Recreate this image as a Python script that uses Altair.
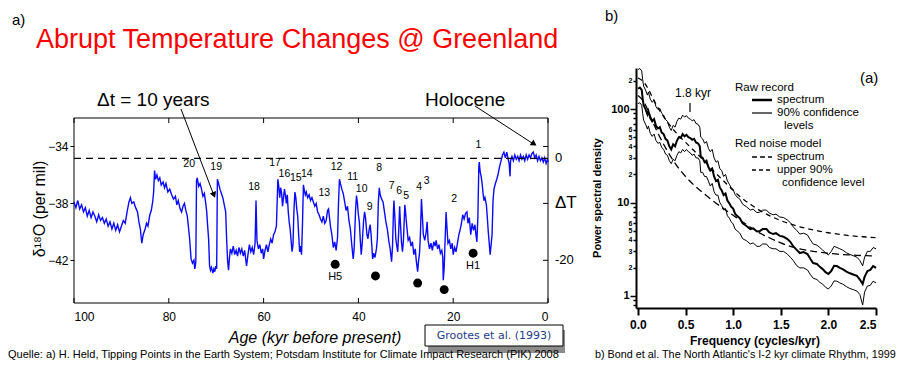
import altair as alt
import pandas as pd

FONT = "Liberation Sans"

# ---------------- Panel a: GISP2 delta-18O record ----------------
age = [100.0, 99.6, 99.2, 98.8, 98.4, 98.0, 97.6, 97.2, 96.8, 96.4, 96.0, 95.6, 95.2, 94.8, 94.4, 94.0,
       93.6, 93.2, 92.8, 92.4, 92.0, 91.6, 91.2, 90.8, 90.4, 90.0, 89.6, 89.2, 88.8, 88.4, 88.1, 87.8,
       87.4, 87.0, 86.6, 86.3, 86.0, 85.7, 85.4, 85.0, 84.7, 84.4, 84.0, 83.7, 83.4, 83.2, 83.0, 82.8,
       82.5, 82.2, 81.9, 81.6, 81.2, 80.9, 80.6, 80.2, 79.8, 79.4, 79.0, 78.6, 78.3, 78.0, 77.6, 77.3,
       77.0, 76.7, 76.4, 76.1, 75.9, 75.6, 75.3, 75.0, 74.7, 74.5, 74.3, 74.15, 74.0, 73.7, 73.4, 73.1,
       72.8, 72.5, 72.2, 72.0, 71.8, 71.6, 71.4, 71.2, 71.0, 70.7, 70.5, 70.3, 70.1, 69.9, 69.75, 69.5,
       69.2, 68.9, 68.6, 68.3, 68.0, 67.8, 67.6, 67.4, 67.2, 67.0, 66.7, 66.4, 66.1, 65.8, 65.5, 65.2,
       64.9, 64.6, 64.3, 64.0, 63.6, 63.3, 63.0, 62.7, 62.4, 62.1, 61.8, 61.6, 61.4, 61.1, 60.8, 60.5,
       60.2, 60.0, 59.7, 59.4, 59.1, 58.8, 58.5, 58.2, 57.9, 57.6, 57.3, 57.1, 57.0, 56.8, 56.6, 56.4,
       56.2, 56.0, 55.8, 55.6, 55.4, 55.2, 55.0, 54.8, 54.6, 54.4, 54.2, 54.0, 53.8, 53.6, 53.4, 53.2,
       53.0, 52.8, 52.6, 52.4, 52.2, 52.0, 51.8, 51.6, 51.4, 51.2, 51.0, 50.7, 50.4, 50.1, 49.8, 49.5,
       49.2, 48.9, 48.6, 48.3, 48.0, 47.7, 47.4, 47.1, 46.8, 46.5, 46.3, 46.1, 45.9, 45.6, 45.3, 45.0,
       44.7, 44.4, 44.2, 44.0, 43.8, 43.5, 43.2, 42.9, 42.6, 42.3, 42.0, 41.7, 41.4, 41.1, 40.9, 40.6,
       40.4, 40.2, 40.0, 39.8, 39.6, 39.4, 39.2, 38.9, 38.7, 38.5, 38.2, 38.0, 37.7, 37.5, 37.3, 37.0,
       36.8, 36.5, 36.2, 36.0, 35.8, 35.6, 35.4, 35.1, 34.8, 34.5, 34.2, 33.9, 33.6, 33.3, 33.0, 32.8,
       32.6, 32.5, 32.3, 32.1, 31.9, 31.7, 31.5, 31.3, 31.1, 30.9, 30.7, 30.5, 30.2, 30.0, 29.8, 29.5,
       29.2, 28.9, 28.6, 28.3, 28.0, 27.8, 27.5, 27.3, 27.1, 26.9, 26.7, 26.5, 26.3, 26.0, 25.7, 25.5,
       25.3, 25.0, 24.7, 24.4, 24.1, 23.8, 23.6, 23.3, 23.0, 22.7, 22.4, 22.2, 22.1, 21.9, 21.7, 21.5,
       21.3, 21.1, 20.8, 20.5, 20.2, 20.0, 19.7, 19.4, 19.1, 18.8, 18.5, 18.2, 18.0, 17.7, 17.4, 17.1,
       16.9, 16.6, 16.3, 16.0, 15.7, 15.4, 15.2, 15.0, 14.8, 14.6, 14.5, 14.3, 14.1, 13.9, 13.7, 13.5,
       13.3, 13.0, 12.8, 12.6, 12.4, 12.2, 12.0, 11.8, 11.6, 11.4, 11.1, 10.8, 10.5, 10.2, 9.9, 9.6,
       9.3, 9.0, 8.7, 8.4, 8.2, 8.0, 7.9, 7.6, 7.3, 7.0, 6.7, 6.4, 6.1, 5.8, 5.5, 5.2,
       4.9, 4.6, 4.3, 4.0, 3.7, 3.4, 3.1, 2.8, 2.5, 2.2, 1.9, 1.6, 1.3, 1.0, 0.7, 0.4,
       0.1, 0.0]
d18o = [-37.9, -38.3, -37.8, -38.4, -38.1, -38.6, -38.3, -38.9, -38.5, -39.0, -38.6, -38.9, -39.3, -38.8, -39.2, -39.0,
        -39.4, -39.1, -39.6, -39.3, -39.8, -39.4, -39.9, -39.5, -40.0, -39.6, -39.2, -39.4, -38.6, -37.9, -37.6, -38.0,
        -37.9, -38.3, -38.6, -39.3, -39.8, -40.8, -40.2, -39.8, -39.4, -39.6, -38.8, -38.5, -37.9, -37.2, -35.7, -36.3,
        -36.0, -36.4, -36.2, -36.7, -36.5, -36.9, -36.6, -37.2, -37.0, -37.4, -37.7, -37.5, -38.1, -37.8, -38.4, -38.6,
        -38.2, -38.0, -38.5, -38.9, -39.5, -40.5, -41.9, -42.2, -42.0, -42.6, -42.1, -36.4, -36.2, -36.8, -36.6, -37.0,
        -37.5, -37.3, -38.0, -38.6, -39.6, -40.5, -42.4, -42.7, -42.5, -42.9, -42.6, -42.8, -42.4, -42.6, -36.3, -36.6,
        -37.0, -37.3, -37.6, -38.1, -38.6, -40.5, -42.0, -42.7, -41.8, -41.2, -41.5, -41.0, -41.6, -41.3, -41.7, -41.1,
        -41.5, -41.2, -41.7, -41.3, -42.4, -41.6, -40.9, -41.4, -41.1, -41.6, -40.8, -37.8, -40.6, -41.2, -40.9, -41.5,
        -41.2, -41.9, -41.3, -40.9, -41.4, -40.9, -40.5, -40.8, -40.2, -40.0, -39.6, -37.5, -36.3, -36.8, -37.6, -36.9,
        -37.3, -38.2, -37.6, -37.0, -37.4, -38.0, -37.4, -38.6, -39.3, -39.8, -40.6, -41.4, -40.9, -38.5, -37.2, -37.6,
        -38.4, -38.9, -40.2, -41.4, -41.0, -41.6, -39.5, -36.7, -37.1, -37.4, -37.2, -37.6, -37.4, -37.8, -37.6, -37.9,
        -38.2, -38.0, -38.6, -38.8, -39.1, -39.3, -38.9, -39.4, -39.2, -38.5, -38.4, -39.0, -39.6, -40.2, -41.1, -40.7,
        -41.3, -40.4, -38.0, -36.3, -36.6, -37.0, -37.3, -37.9, -38.5, -38.2, -39.2, -39.8, -40.9, -41.9, -41.2, -38.5,
        -37.45, -38.0, -38.8, -39.3, -40.6, -41.6, -40.8, -39.2, -38.6, -39.0, -40.2, -40.5, -39.8, -39.5, -40.3, -41.9,
        -41.5, -41.8, -41.2, -40.5, -38.0, -36.9, -37.4, -37.7, -37.9, -38.6, -39.3, -39.8, -40.6, -41.2, -42.1, -41.0,
        -38.5, -37.8, -39.0, -40.5, -41.0, -41.4, -40.0, -38.2, -39.6, -40.8, -41.4, -40.6, -38.1, -38.8, -39.6, -40.6,
        -40.4, -41.0, -40.7, -41.6, -41.2, -42.0, -42.8, -42.0, -41.5, -40.0, -37.7, -38.9, -40.2, -40.6, -40.0, -39.3,
        -40.6, -41.2, -40.8, -41.3, -40.7, -41.0, -40.6, -41.2, -40.9, -41.5, -41.3, -41.8, -43.4, -42.5, -40.5, -38.6,
        -39.8, -40.8, -40.6, -41.2, -40.8, -41.6, -41.1, -41.4, -40.8, -40.2, -39.8, -39.3, -38.8, -39.1, -38.7, -38.6,
        -39.4, -39.0, -40.2, -39.4, -39.9, -39.5, -40.2, -40.7, -39.0, -35.5, -35.1, -35.8, -36.1, -36.6, -37.3, -37.8,
        -37.6, -38.1, -39.0, -40.0, -40.8, -41.6, -40.9, -40.2, -37.8, -37.0, -36.6, -36.3, -35.9, -35.4, -35.0, -34.6,
        -34.4, -34.8, -34.4, -34.9, -35.2, -36.1, -35.0, -34.7, -35.0, -34.6, -34.9, -34.7, -35.0, -34.6, -34.9, -34.7,
        -35.0, -34.6, -34.9, -34.6, -34.8, -34.5, -34.4, -34.8, -34.6, -35.0, -34.7, -35.0, -34.8, -35.1, -34.8, -35.2,
        -34.9, -35.1]

event_label = ["20", "19", "18", "17", "16", "15", "14", "13", "12", "11", "10", "9", "8", "7", "6", "5",
               "4", "3", "2", "1"]
event_age = [75.7, 70.0, 62.0, 57.6, 55.6, 53.2, 50.9, 47.2, 44.6, 41.2, 39.3, 37.6, 35.6, 33.0, 31.4, 29.9,
             27.2, 25.6, 19.8, 14.7]
event_d18o = [-35.26, -35.45, -36.86, -35.15, -35.9, -36.2, -35.9, -37.3, -35.45, -36.15, -36.97, -38.26,
              -35.5, -36.8, -37.1, -37.5, -36.86, -36.46, -37.7, -33.88]

heinrich_age = [44.9, 36.4, 27.5, 21.9, 15.8]
heinrich_d18o = [-42.28, -43.1, -43.6, -44.06, -41.5]
heinrich_label = ["H5", "", "", "", "H1"]

age_ticks = [100, 80, 60, 40, 20, 0]
d18o_ticks = [-34, -38, -42]
holocene_level = -34.84
dT_label = ["0", "-20"]
dT_d18o = [-34.84, -42.0]

# ---------------- Panel b: spectrum ----------------
freq = [0.00, 0.02, 0.04, 0.05, 0.06, 0.08, 0.10, 0.11, 0.13, 0.15, 0.17, 0.19, 0.21, 0.23, 0.25, 0.27,
        0.29, 0.31, 0.33, 0.35, 0.37, 0.39, 0.41, 0.43, 0.45, 0.47, 0.49, 0.51, 0.53, 0.55, 0.57, 0.59,
        0.61, 0.63, 0.65, 0.66, 0.68, 0.70, 0.72, 0.74, 0.76, 0.78, 0.80, 0.82, 0.84, 0.86, 0.88, 0.90,
        0.92, 0.94, 0.96, 0.98, 1.00, 1.02, 1.04, 1.07, 1.10, 1.14, 1.18, 1.21, 1.25, 1.28, 1.31, 1.35,
        1.38, 1.42, 1.45, 1.49, 1.53, 1.57, 1.60, 1.63, 1.67, 1.70, 1.74, 1.78, 1.81, 1.84, 1.88, 1.91,
        1.94, 1.97, 2.00, 2.03, 2.06, 2.09, 2.12, 2.15, 2.19, 2.22, 2.26, 2.30, 2.33, 2.36, 2.38, 2.41,
        2.44, 2.47, 2.50]
spectrum = [165, 170, 160, 130, 110, 100, 88, 95, 80, 74, 78, 66, 62, 64, 56, 54,
            48, 46, 40, 37, 42, 40, 46, 50, 49, 54, 51, 53, 50, 49, 47, 48,
            44, 43, 40, 31, 30, 27, 28, 24, 22, 23, 19, 17, 17.5, 14.5, 13.5, 12,
            12.5, 10.5, 9.8, 9.0, 8.6, 7.6, 7.2, 6.8, 6.0, 5.6, 5.2, 5.3, 4.9, 4.96, 5.2, 5.2,
            4.8, 4.6, 4.7, 4.4, 4.3, 4.07, 3.8, 3.42, 3.1, 2.88, 2.95, 2.81, 2.5, 2.25, 2.2, 2.05,
            1.94, 1.8, 1.72, 1.85, 2.1, 2.09, 2.0, 1.94, 1.82, 1.76, 1.7, 1.64, 1.5, 1.34, 1.6, 1.85,
            1.9, 2.09, 2.0]
upper90 = [264, 272, 256, 208, 176, 160, 141, 152, 128, 118, 125, 106, 99, 102, 90, 86,
           77, 74, 64, 59, 67, 64, 74, 80, 78, 86, 82, 85, 80, 78, 75, 77,
           70, 69, 64, 50, 48, 43, 45, 38, 35, 37, 30, 27, 28, 23, 22, 19,
           20, 17, 15.7, 14.4, 13.8, 12.2, 11.5, 10.9, 9.6, 9.0, 8.3, 8.5, 7.8, 7.9, 8.3, 8.3,
           7.7, 7.4, 7.5, 7.0, 6.9, 6.5, 6.1, 5.5, 5.0, 4.6, 4.7, 4.5, 4.0, 3.6, 3.5, 3.3,
           3.1, 2.9, 2.75, 3.0, 3.4, 3.3, 3.2, 3.1, 2.9, 2.8, 2.7, 2.6, 2.4, 2.1, 2.6, 3.0,
           3.0, 3.3, 3.2]
lower90 = [114, 117, 110, 90, 76, 69, 61, 66, 55, 51, 54, 46, 43, 44, 39, 37,
           33, 32, 28, 26, 29, 28, 32, 35, 34, 37, 35, 37, 35, 34, 32, 33,
           30, 30, 28, 21, 21, 19, 19, 17, 15, 16, 13, 12, 12, 10, 9.3, 8.3,
           8.6, 7.2, 6.8, 6.2, 5.9, 5.2, 5.0, 4.7, 4.1, 3.9, 3.6, 3.7, 3.4, 3.4, 3.6, 3.6,
           3.3, 3.2, 3.2, 3.0, 3.0, 2.8, 2.6, 2.4, 2.1, 2.0, 2.0, 1.9, 1.7, 1.55, 1.5, 1.4,
           1.34, 1.24, 1.19, 1.28, 1.45, 1.44, 1.38, 1.34, 1.26, 1.21, 1.17, 1.13, 1.04, 0.8, 1.1, 1.28,
           1.3, 1.44, 1.38]

rn_freq = [0.0, 0.05, 0.1, 0.15, 0.2, 0.3, 0.4, 0.5, 0.6, 0.7, 0.8, 0.9, 1.0, 1.1, 1.2, 1.3,
           1.4, 1.5, 1.6, 1.7, 1.8, 1.9, 2.0, 2.1, 2.2, 2.3, 2.4, 2.5]
rn_spectrum = [140, 125, 100, 75, 58, 37, 25.5, 19, 15, 12.3, 10.2, 8.6, 7.3, 6.2, 5.3, 4.6,
               4.1, 3.7, 3.4, 3.2, 3.05, 2.95, 2.87, 2.8, 2.76, 2.72, 2.7, 2.68]
rn_upper90 = [215, 200, 170, 135, 108, 75, 56, 44, 35, 27.5, 21.5, 17, 13.5, 11, 9.3, 8.0,
              7.1, 6.4, 5.9, 5.5, 5.2, 4.95, 4.75, 4.6, 4.45, 4.35, 4.28, 4.2]

freq_ticks = [0.0, 0.5, 1.0, 1.5, 2.0, 2.5]
psd_ticks = [0.8, 0.9, 1, 2, 3, 4, 5, 6, 7, 8, 9, 10, 20, 30, 40, 50, 60, 70, 80, 90, 100, 200]
psd_tick_text = {1: "1", 2: "2", 3: "3", 4: "4", 5: "5", 6: "6", 10: "10", 20: "2", 30: "3",
                 40: "4", 50: "5", 60: "6", 100: "100", 200: "2"}

# ---------------- scales (pixel ranges inside one canvas) ----------------
W, H = 891, 352
xa = alt.Scale(domain=[0, 100], range=[540, 66], nice=False, zero=False)
ya = alt.Scale(domain=[-45, -32], range=[295, 110], nice=False, zero=False)
xb = alt.Scale(domain=[-0.02, 2.5], range=[628, 868], nice=False, zero=False)
yb = alt.Scale(type="log", domain=[0.744, 275], range=[300, 60], nice=False)

one = pd.DataFrame({"k": [0]})


def txt(s, x, y, size=12, align="left", weight="normal", color="black", font=FONT,
        angle=0, style="normal", baseline="middle"):
    return alt.Chart(one).mark_text(
        text=s, align=align, baseline=baseline, fontSize=size, fontWeight=weight,
        color=color, font=font, angle=angle, fontStyle=style
    ).encode(x=alt.value(x), y=alt.value(y))


def seg(x1, y1, x2, y2, width=1.0, dash=None, color="black"):
    kw = dict(color=color, strokeWidth=width)
    if dash:
        kw["strokeDash"] = dash
    return alt.Chart(one).mark_rule(**kw).encode(
        x=alt.value(x1), y=alt.value(y1), x2=alt.value(x2), y2=alt.value(y2))


def box(x1, y1, x2, y2, fill="white", stroke="black", width=1.0, fill_opacity=1.0):
    kw = dict(fill=fill, fillOpacity=fill_opacity, strokeWidth=width)
    if stroke:
        kw["stroke"] = stroke
    return alt.Chart(one).mark_rect(**kw).encode(
        x=alt.value(x1), y=alt.value(y1), x2=alt.value(x2), y2=alt.value(y2))


layers = []

# ---- Panel a ----
layers.append(box(66, 110, 540, 295, fill="white", stroke="black", width=1, fill_opacity=0))

df_a = pd.DataFrame({"age": age, "d18o": d18o})
line_a = alt.Chart(df_a).mark_line(color="#0a0aff", strokeWidth=1.4).encode(
    x=alt.X("age:Q", scale=xa, axis=alt.Axis(
        orient="bottom", offset=-57, values=age_ticks, ticks=False, domain=False, grid=False,
        labelFontSize=12, labelPadding=8, title=None, labelFont=FONT, labelColor="black")),
    y=alt.Y("d18o:Q", scale=ya, axis=alt.Axis(
        orient="left", offset=-66, values=d18o_ticks, tickSize=4, tickColor="black", domain=False,
        grid=False, title=None, labelFontSize=12, labelPadding=2, labelFont=FONT, labelColor="black")),
)
layers.append(line_a)

# dashed zero line (Holocene level)
layers.append(alt.Chart(pd.DataFrame({"lvl": [holocene_level]})).mark_rule(
    color="black", strokeWidth=1.2, strokeDash=[7, 5]).encode(
    y=alt.Y("lvl:Q", scale=ya, axis=None), x=alt.value(66), x2=alt.value(540)))

# inner ticks top / bottom / right
df_at = pd.DataFrame({"age": age_ticks})
layers.append(alt.Chart(df_at).mark_rule(color="black").encode(
    x=alt.X("age:Q", scale=xa, axis=None), y=alt.value(110), y2=alt.value(115)))
layers.append(alt.Chart(df_at).mark_rule(color="black").encode(
    x=alt.X("age:Q", scale=xa, axis=None), y=alt.value(290), y2=alt.value(295)))
layers.append(alt.Chart(pd.DataFrame({"d": d18o_ticks})).mark_rule(color="black").encode(
    y=alt.Y("d:Q", scale=ya, axis=None), x=alt.value(535), x2=alt.value(540)))

# right delta-T labels
layers.append(alt.Chart(pd.DataFrame({"d": dT_d18o, "t": dT_label})).mark_text(
    align="left", baseline="middle", fontSize=13, font=FONT).encode(
    y=alt.Y("d:Q", scale=ya, axis=None), x=alt.value(547), text="t:N"))
layers.append(alt.Chart(pd.DataFrame({"d": [-38.0], "t": ["ΔT"]})).mark_text(
    align="left", baseline="middle", fontSize=17, font=FONT).encode(
    y=alt.Y("d:Q", scale=ya, axis=None), x=alt.value(547), text="t:N"))

# event numbers
df_ev = pd.DataFrame({"age": event_age, "d18o": event_d18o, "lab": event_label})
layers.append(alt.Chart(df_ev).mark_text(fontSize=10.5, font=FONT, baseline="middle").encode(
    x=alt.X("age:Q", scale=xa, axis=None), y=alt.Y("d18o:Q", scale=ya, axis=None), text="lab:N"))

# Heinrich events
df_h = pd.DataFrame({"age": heinrich_age, "d18o": heinrich_d18o, "lab": heinrich_label})
layers.append(alt.Chart(df_h).mark_circle(size=80, color="black", opacity=1).encode(
    x=alt.X("age:Q", scale=xa, axis=None), y=alt.Y("d18o:Q", scale=ya, axis=None)))
layers.append(alt.Chart(df_h).mark_text(fontSize=11, font=FONT, dy=13).encode(
    x=alt.X("age:Q", scale=xa, axis=None), y=alt.Y("d18o:Q", scale=ya, axis=None), text="lab:N"))

# titles / annotations panel a
layers.append(txt("a)", 4, 12, size=15))
layers.append(txt("Abrupt Temperature Changes @ Greenland", 28, 32, size=27, color="#ff0000"))
layers.append(txt("Δt = 10 years", 89, 92, size=19))
layers.append(txt("Holocene", 417, 92, size=19))
layers.append(seg(173, 101, 205, 185, width=1))
layers.append(alt.Chart(one).mark_point(shape="triangle-up", filled=True, color="black", size=45,
                                          angle=159, opacity=1).encode(x=alt.value(206), y=alt.value(187)))
layers.append(seg(467, 98, 524, 135, width=1))
layers.append(alt.Chart(one).mark_point(shape="triangle-up", filled=True, color="black", size=45,
                                          angle=124, opacity=1).encode(x=alt.value(526), y=alt.value(136)))
layers.append(txt("δ¹⁸O (per mil)", 32, 201, size=16, angle=270, align="center"))
layers.append(txt("Age (kyr before present)", 307, 330, size=16, align="center", style="italic"))
layers.append(box(420, 322, 557, 345, fill="#8c8c8c", stroke=None))
layers.append(box(417, 317, 555, 338, fill="white", stroke="black", width=1))
layers.append(txt("Grootes et al. (1993)", 486, 328, size=11, align="center", color="#1f3c88",
                  font="DejaVu Sans"))
layers.append(txt("Quelle: a) H. Held, Tipping Points in the Earth System; Potsdam Institute for Climate "
                  "Impact Research (PIK) 2008", 0, 352, size=11, baseline="bottom"))

# ---- Panel b ----
df_b = pd.DataFrame({"f": freq, "s": spectrum, "u": upper90, "l": lower90})
label_expr = " : ".join(
    [f"datum.value == {k} ? '{v}'" for k, v in psd_tick_text.items()]) + " : ''"
major_test = "datum.value == 1 || datum.value == 10 || datum.value == 100"
line_thick = alt.Chart(df_b).mark_line(color="black", strokeWidth=2).encode(
    x=alt.X("f:Q", scale=xb, axis=alt.Axis(
        orient="bottom", offset=-52, values=freq_ticks, format=".1f", tickSize=7, tickWidth=2,
        tickColor="black", domainWidth=2, domainColor="black", grid=False, title=None,
        labelFontSize=12, labelFontWeight="bold", labelPadding=4, labelFont=FONT, labelColor="black")),
    y=alt.Y("s:Q", scale=yb, axis=alt.Axis(
        orient="left", offset=-628, values=psd_ticks, labelExpr=label_expr, domainWidth=2,
        domainColor="black", tickColor="black", tickWidth=1.5,
        tickSize={"condition": {"test": major_test, "value": 6}, "value": 3},
        labelFontSize={"condition": {"test": major_test, "value": 11}, "value": 7},
        labelFontWeight="bold", labelPadding=1, grid=False, title=None, labelFont=FONT,
        labelColor="black", labelBaseline="middle", labelFlush=False, labelOverlap=False)),
)
layers.append(line_thick)
for col in ["u", "l"]:
    layers.append(alt.Chart(df_b).mark_line(color="black", strokeWidth=1).encode(
        x=alt.X("f:Q", scale=xb, axis=None), y=alt.Y(f"{col}:Q", scale=yb, axis=None)))

df_rn = pd.DataFrame({"f": rn_freq, "s": rn_spectrum, "u": rn_upper90})
layers.append(alt.Chart(df_rn).mark_line(color="black", strokeWidth=1.3, strokeDash=[7, 4],
                                         interpolate="monotone").encode(
    x=alt.X("f:Q", scale=xb, axis=None), y=alt.Y("s:Q", scale=yb, axis=None)))
layers.append(alt.Chart(df_rn).mark_line(color="black", strokeWidth=1.3, strokeDash=[5, 4],
                                         interpolate="monotone").encode(
    x=alt.X("f:Q", scale=xb, axis=None), y=alt.Y("u:Q", scale=yb, axis=None)))

LEG = 11.5
layers.append(txt("b)", 597, 8, size=15))
layers.append(txt("1.8 kyr", 685, 85, size=12, align="center"))
layers.append(seg(682, 95, 682, 104, width=1.2))
layers.append(txt("(a)", 852, 70, size=15))
layers.append(txt("Raw record", 727, 80, size=LEG))
layers.append(seg(744, 92, 764, 92, width=2.5))
layers.append(txt("spectrum", 769, 92, size=LEG))
layers.append(seg(744, 105, 764, 105, width=1.2))
layers.append(txt("90% confidence", 769, 105, size=LEG))
layers.append(txt("levels", 776, 118, size=LEG))
layers.append(txt("Red noise model", 727, 136, size=LEG))
layers.append(seg(744, 149, 764, 149, width=1.3, dash=[5, 3]))
layers.append(txt("spectrum", 769, 149, size=LEG))
layers.append(seg(744, 162, 764, 162, width=1.3, dash=[4, 3]))
layers.append(txt("upper 90%", 769, 162, size=LEG))
layers.append(txt("confidence level", 774, 175, size=LEG))
layers.append(txt("Power spectral density", 590, 190, size=11, angle=270, align="center",
                  weight="bold"))
layers.append(txt("Frequency (cycles/kyr)", 747, 333, size=12, align="center", weight="bold"))
layers.append(txt("b) Bond et al. The North Atlantic's I-2 kyr climate Rhythm, 1999", 587, 352,
                  size=10.8, baseline="bottom"))

chart = alt.layer(*layers).resolve_scale(x="independent", y="independent").properties(
    width=W, height=H, padding=0, autosize=alt.AutoSizeParams(type="none")
).configure_view(stroke=None)

chart.save("out.html", embed_options={"renderer": "svg", "actions": False})
